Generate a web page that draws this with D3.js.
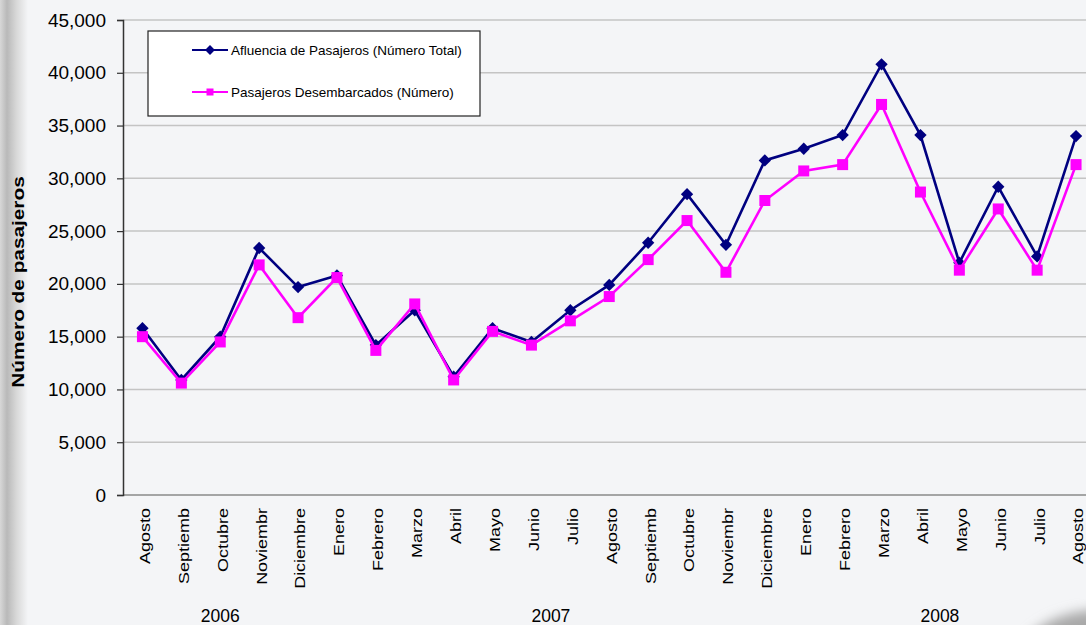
<!DOCTYPE html>
<html>
<head>
<meta charset="utf-8">
<script src="https://cdn.jsdelivr.net/npm/d3@7"></script>
<style>
  html, body { margin: 0; padding: 0; background: #f4f5f7; }
  svg { display: block; font-family: "Liberation Sans", Arial, sans-serif; }
</style>
</head>
<body>
<svg id="chart" width="1086" height="625"></svg>
<script>
// month labels, one per point (Aug 2006 .. Aug 2008)
var months = ["Agosto","Septiemb","Octubre","Noviembr","Diciembre","Enero","Febrero","Marzo","Abril","Mayo","Junio","Julio",
              "Agosto","Septiemb","Octubre","Noviembr","Diciembre","Enero","Febrero","Marzo","Abril","Mayo","Junio","Julio","Agosto"];
var afluencia = [15800,10900,15000,23400,19700,20800,14200,17500,11200,15800,14500,17500,
                 19900,23900,28500,23700,31700,32800,34100,40800,34100,22000,29200,22600,34000];
var desembarcados = [15000,10600,14500,21800,16800,20600,13700,18100,10900,15500,14200,16500,
                     18800,22300,26000,21100,27900,30700,31300,37000,28700,21300,27100,21300,31300];
var yearLabels = ["2006","2007","2008"];
var yearFirst = [0,5,17];
var yearLast = [4,16,24];
var yTicks = [0,5000,10000,15000,20000,25000,30000,35000,40000,45000];
var seriesNames = ["Afluencia de Pasajeros (Número Total)","Pasajeros Desembarcados (Número)"];

var svg = d3.select("#chart");
var W = 1086, H = 625;
var margin = {top: 20, left: 123, bottom: 495};
var plotRight = 123 + 25 * 38.9;

// background with grey strip on the left
var defs = svg.append("defs");
var grad = defs.append("linearGradient").attr("id", "leftStrip")
  .attr("x1", 0).attr("x2", 1).attr("y1", 0).attr("y2", 0);
grad.append("stop").attr("offset", "0%").attr("stop-color", "#d8d8d8");
grad.append("stop").attr("offset", "25%").attr("stop-color", "#b9b9b9");
grad.append("stop").attr("offset", "60%").attr("stop-color", "#d9d9d9");
grad.append("stop").attr("offset", "100%").attr("stop-color", "#f4f5f7");
defs.append("filter").attr("id", "blur").append("feGaussianBlur").attr("stdDeviation", 6);

svg.append("rect").attr("width", W).attr("height", H).attr("fill", "#f4f5f7");
svg.append("rect").attr("width", 28).attr("height", H).attr("fill", "url(#leftStrip)");
svg.append("ellipse").attr("cx", 1100).attr("cy", 668).attr("rx", 85).attr("ry", 58)
  .attr("fill", "#a9a9a9").attr("filter", "url(#blur)");

var x = d3.scaleBand().domain(d3.range(months.length)).range([margin.left, plotRight]);
var y = d3.scaleLinear().domain([0, 45000]).range([margin.bottom, margin.top]);
var cx = function(i) { return x(i) + x.bandwidth() / 2; };

// gridlines
svg.append("g").selectAll("line").data(yTicks.filter(function(d) { return d > 0; })).enter()
  .append("line")
  .attr("x1", margin.left).attr("x2", W)
  .attr("y1", function(d) { return y(d); }).attr("y2", function(d) { return y(d); })
  .attr("stroke", "#c4c4c4").attr("stroke-width", 1.5);

// x axis line
svg.append("line").attr("x1", margin.left).attr("x2", W)
  .attr("y1", y(0)).attr("y2", y(0)).attr("stroke", "#8a8a8a").attr("stroke-width", 1.5);

// y axis
var yAxis = svg.append("g").attr("transform", "translate(" + margin.left + ",0)")
  .call(d3.axisLeft(y).tickValues(yTicks).tickSize(6).tickPadding(11).tickFormat(d3.format(",")));
yAxis.select(".domain").attr("stroke", "#333").attr("stroke-width", 1.5);
yAxis.selectAll(".tick line").attr("stroke", "#333").attr("stroke-width", 1.2);
yAxis.selectAll(".tick text").attr("font-size", "19px").attr("fill", "#000")
  .attr("font-family", "'Liberation Sans', Arial, sans-serif");

// month labels
svg.append("g").selectAll("text").data(months).enter()
  .append("text")
  .attr("transform", function(d, i) { return "translate(" + (cx(i) + 2) + ",508) rotate(-90) scale(1.16,1)"; })
  .attr("text-anchor", "end").attr("dy", "0.35em")
  .attr("font-size", "15.5px").attr("fill", "#000")
  .text(function(d) { return d; });

// year labels
svg.append("g").selectAll("text").data(yearLabels).enter()
  .append("text")
  .attr("x", function(d, i) { return (cx(yearFirst[i]) + cx(yearLast[i])) / 2; })
  .attr("y", 622).attr("text-anchor", "middle")
  .attr("font-size", "17.5px").attr("fill", "#000")
  .text(function(d) { return d; });

// y axis title
svg.append("text")
  .attr("transform", "translate(24,282) rotate(-90) scale(1.3,1)")
  .attr("text-anchor", "middle")
  .attr("font-size", "16px").attr("font-weight", "bold").attr("fill", "#000")
  .text("Número de pasajeros");

// series
var line = d3.line().x(function(d, i) { return cx(i); }).y(function(d) { return y(d); });

svg.append("path").datum(afluencia).attr("d", line)
  .attr("fill", "none").attr("stroke", "#000080").attr("stroke-width", 2.6);
svg.append("g").selectAll("path").data(afluencia).enter()
  .append("path")
  .attr("d", d3.symbol().type(d3.symbolSquare).size(76))
  .attr("transform", function(d, i) { return "translate(" + cx(i) + "," + y(d) + ") rotate(45)"; })
  .attr("fill", "#000080");

svg.append("path").datum(desembarcados).attr("d", line)
  .attr("fill", "none").attr("stroke", "#ff00ff").attr("stroke-width", 2.6);
svg.append("g").selectAll("rect").data(desembarcados).enter()
  .append("rect")
  .attr("x", function(d, i) { return cx(i) - 5.5; })
  .attr("y", function(d) { return y(d) - 5.5; })
  .attr("width", 11).attr("height", 11)
  .attr("fill", "#ff00ff");

// legend
var legend = svg.append("g");
legend.append("rect").attr("x", 148).attr("y", 31).attr("width", 332).attr("height", 85)
  .attr("fill", "#ffffff").attr("stroke", "#222").attr("stroke-width", 1.2);
var legColors = ["#000080", "#ff00ff"];
var legY = [50, 92];
seriesNames.forEach(function(name, k) {
  legend.append("line").attr("x1", 192).attr("x2", 228).attr("y1", legY[k]).attr("y2", legY[k])
    .attr("stroke", legColors[k]).attr("stroke-width", 2);
  if (k === 0) {
    legend.append("rect").attr("x", 210 - 3.5).attr("y", legY[k] - 3.5).attr("width", 7).attr("height", 7)
      .attr("transform", "rotate(45," + 210 + "," + legY[k] + ")").attr("fill", legColors[k]);
  } else {
    legend.append("rect").attr("x", 210 - 3.5).attr("y", legY[k] - 3.5).attr("width", 7).attr("height", 7)
      .attr("fill", legColors[k]);
  }
  legend.append("text").attr("x", 231).attr("y", legY[k]).attr("dy", "0.35em")
    .attr("font-size", "13.5px").attr("fill", "#000").text(name);
});
</script>
</body>
</html>
